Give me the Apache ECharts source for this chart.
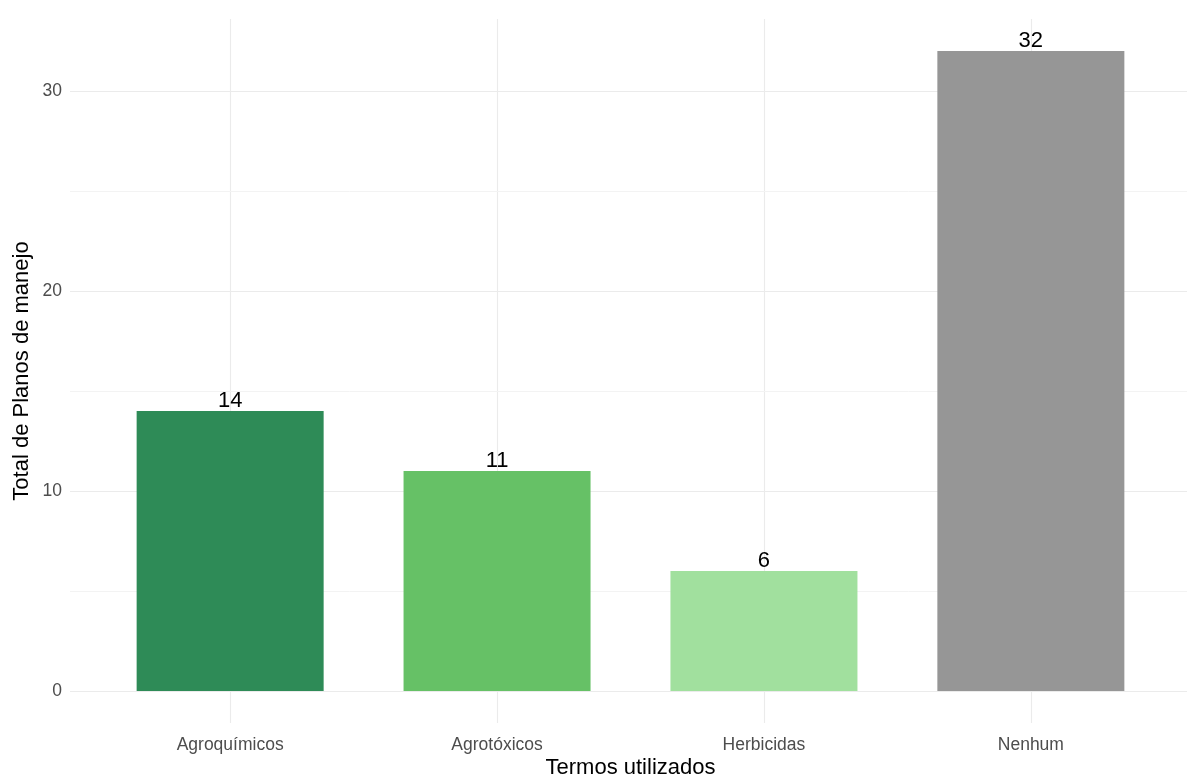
<!DOCTYPE html>
<html>
<head>
<meta charset="utf-8">
<script src="https://cdn.jsdelivr.net/npm/echarts@6/dist/echarts.min.js"></script>
<style>
  html, body { margin: 0; padding: 0; background: #fff; }
  #chart { width: 1187px; height: 782px; }
</style>
</head>
<body>
<div id="chart"></div>
<script>
// Terms used in the management plans
const categories = ['Agroquímicos', 'Agrotóxicos', 'Herbicidas', 'Nenhum'];
const totals = [14, 11, 6, 32];
const barColors = ['#2E8B57', '#66C166', '#A1E09E', '#969696'];
const yTicks = [0, 10, 20, 30];
const yMinorLines = [5, 15, 25];

const positions = categories.map((_, i) => i + 1);
const FONT = 'Liberation Sans, Arial, sans-serif';

const chart = echarts.init(document.getElementById('chart'));

// panel grid lines (major at categories and labelled ticks, minor in between)
const gridLines = [];
positions.forEach(p => gridLines.push({ xAxis: p, lineStyle: { color: '#EBEBEB', width: 1.1, type: 'solid' } }));
yTicks.forEach(v => gridLines.push({ yAxis: v, lineStyle: { color: '#EBEBEB', width: 1.1, type: 'solid' } }));
yMinorLines.forEach(v => gridLines.push({ yAxis: v, lineStyle: { color: '#F3F3F3', width: 1, type: 'solid' } }));

chart.setOption({
  animation: false,
  backgroundColor: '#ffffff',
  grid: { left: 70, top: 19, width: 1121, height: 704, containLabel: false, outerBoundsMode: 'none' },
  xAxis: {
    type: 'value',
    min: 0.4,
    max: 4.6,
    name: 'Termos utilizados',
    nameLocation: 'middle',
    nameGap: 34,
    nameMoveOverlap: false,
    nameTextStyle: { fontFamily: FONT, fontSize: 22, color: '#000' },
    axisLine: { show: false },
    axisTick: { show: false },
    splitLine: { show: false },
    axisLabel: {
      customValues: positions,
      formatter: v => categories[Math.round(v) - 1] || '',
      fontFamily: FONT, fontSize: 17.5, color: '#4D4D4D', margin: 13
    }
  },
  yAxis: {
    type: 'value',
    min: -1.6,
    max: 33.6,
    name: 'Total de Planos de manejo',
    nameLocation: 'middle',
    nameGap: 37,
    nameMoveOverlap: false,
    nameTextStyle: { fontFamily: FONT, fontSize: 22, color: '#000' },
    axisLine: { show: false },
    axisTick: { show: false },
    splitLine: { show: false },
    axisLabel: {
      customValues: yTicks,
      fontFamily: FONT, fontSize: 17.5, color: '#4D4D4D', margin: 8
    }
  },
  series: [
    {
      type: 'bar',
      barWidth: 187,
      data: totals.map((v, i) => ({ value: [positions[i], v], itemStyle: { color: barColors[i] } })),
      label: {
        show: true,
        position: 'top',
        distance: -1,
        formatter: p => p.value[1],
        fontFamily: FONT, fontSize: 22, color: '#000'
      },
      markLine: {
        silent: true,
        symbol: 'none',
        label: { show: false },
        z: 0,
        data: gridLines
      },
      z: 2
    }
  ]
});
</script>
</body>
</html>
